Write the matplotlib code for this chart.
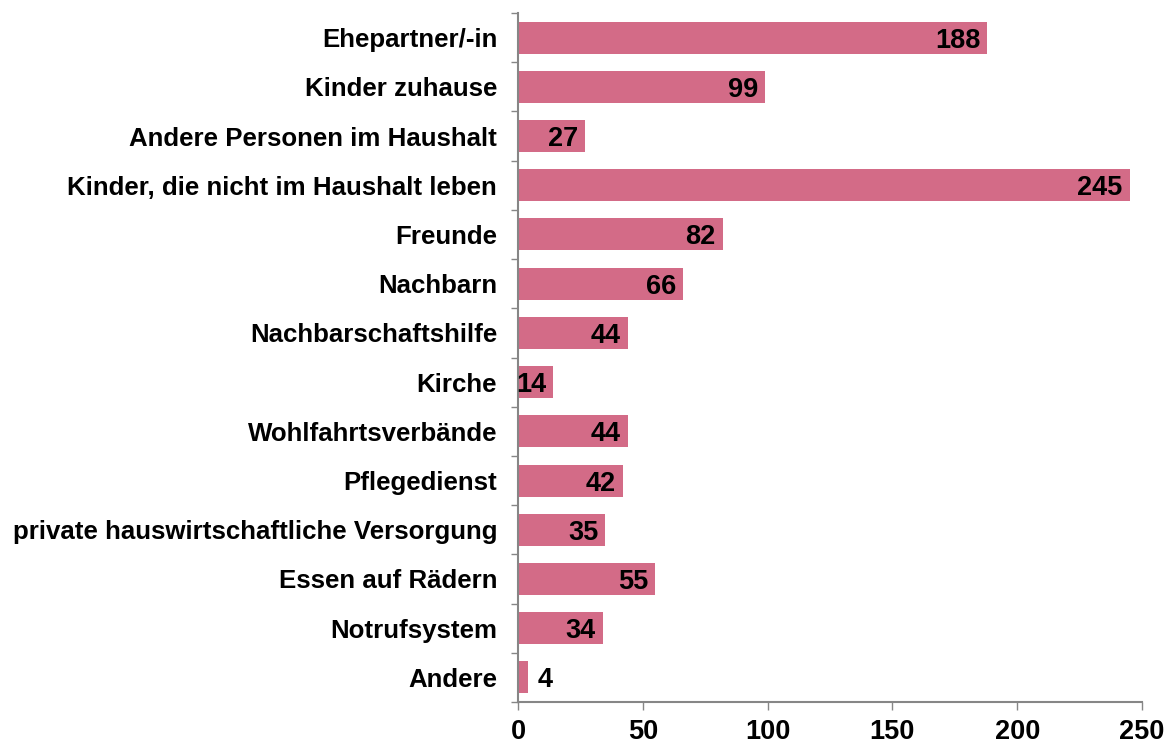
import matplotlib
matplotlib.use("Agg")
import matplotlib.pyplot as plt
import numpy as np

categories = ["Ehepartner/-in", "Kinder zuhause", "Andere Personen im Haushalt",
              "Kinder, die nicht im Haushalt leben", "Freunde", "Nachbarn",
              "Nachbarschaftshilfe", "Kirche", "Wohlfahrtsverbände", "Pflegedienst",
              "private hauswirtschaftliche Versorgung", "Essen auf Rädern",
              "Notrufsystem", "Andere"]
values = [188, 99, 27, 245, 82, 66, 44, 14, 44, 42, 35, 55, 34, 4]

plt.rcParams['font.family'] = ['Liberation Sans', 'DejaVu Sans']
plt.rcParams['font.weight'] = 'bold'

fig = plt.figure(figsize=(11.7, 7.45), dpi=100)
ax = fig.add_axes([518 / 1170, 1 - 702 / 745, 624 / 1170, 689 / 745])

y = np.arange(len(categories))
bars = ax.barh(y, values, height=0.65, color='#D36B87')

for yi, v in zip(y, values):
    if v < 10:
        ax.annotate(str(v), (v, yi), xytext=(7, 0), textcoords='offset points',
                    ha='left', va='center_baseline', fontsize=19.5, fontweight='bold')
    else:
        ax.annotate(str(v), (v, yi), xytext=(-5, 0), textcoords='offset points',
                    ha='right', va='center_baseline', fontsize=19.5, fontweight='bold')

ax.set_xlim(0, 250)
ax.set_ylim(len(categories) - 0.5, -0.5)
ax.set_xticks([0, 50, 100, 150, 200, 250])
ax.set_yticks(y, categories)
ax.set_yticks(np.arange(-0.5, len(categories)), minor=True)

gray = '#868686'
for s in ['top', 'right']:
    ax.spines[s].set_visible(False)
for s in ['left', 'bottom']:
    ax.spines[s].set_color(gray)
    ax.spines[s].set_linewidth(1.5)

ax.tick_params(axis='y', which='major', length=0, pad=15, labelsize=18.6)
ax.tick_params(axis='y', which='minor', length=5, width=1, color=gray, direction='out')
ax.tick_params(axis='x', length=6, width=1, color=gray, direction='out', pad=6, labelsize=19.5)
for lab in ax.get_xticklabels() + ax.get_yticklabels():
    lab.set_fontweight('bold')

fig.savefig("out.png", dpi=100)
